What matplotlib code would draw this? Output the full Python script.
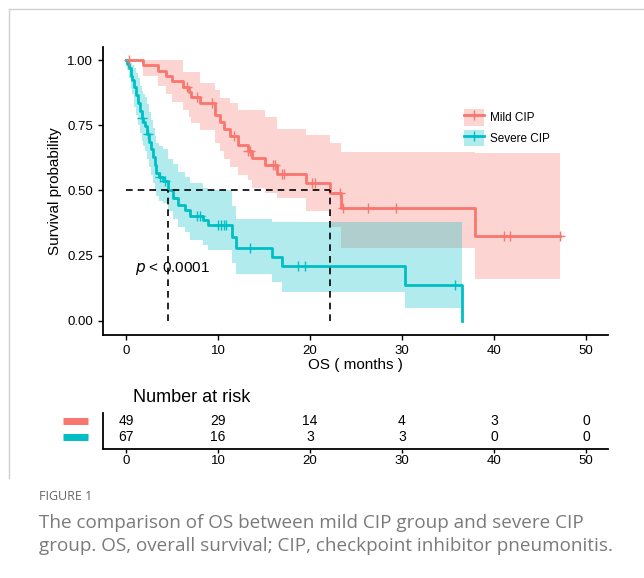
import numpy as np
import matplotlib
matplotlib.use('Agg')
import matplotlib.pyplot as plt
from matplotlib.patches import Patch
from matplotlib.lines import Line2D
from matplotlib.legend_handler import HandlerTuple

plt.rcParams['font.family'] = ['Liberation Sans', 'DejaVu Sans']

# Mild CIP (n=49) - KM steps
mild_t = [0, 1.8, 3.5, 4.4, 5.0, 6.2, 6.8, 7.1, 8.0, 9.7, 10.2, 10.6, 11.3, 12.2, 13.3, 13.7,
          15.1, 16.4, 19.6, 22.2, 23.4, 37.9]
mild_s = [1.0, 0.98, 0.959, 0.939, 0.918, 0.898, 0.877, 0.857, 0.836, 0.79, 0.764, 0.737, 0.71,
          0.674, 0.652, 0.625, 0.597, 0.564, 0.529, 0.488, 0.434, 0.325]
mild_lo = [1.0, 0.94, 0.90, 0.87, 0.84, 0.81, 0.78, 0.76, 0.73, 0.68, 0.65, 0.62, 0.59, 0.56,
           0.54, 0.51, 0.49, 0.47, 0.42, 0.36, 0.28, 0.16]
mild_hi = [1.0, 1.0, 1.0, 1.0, 1.0, 0.955, 0.955, 0.955, 0.91, 0.885, 0.853, 0.853, 0.834, 0.808,
           0.808, 0.808, 0.783, 0.737, 0.713, 0.68, 0.648, 0.645]
mild_end = 47.2
mild_cens = [0.3, 6.6, 7.7, 9.4, 11.7, 13.3, 13.5, 16.0, 16.2, 17.0, 17.2, 20.2, 20.5, 23.3, 23.6,
             26.3, 29.3, 41.1, 41.7, 47.2]

# Severe CIP (n=67)
sev_t = [0, 0.1, 0.3, 0.5, 0.7, 0.9, 1.1, 1.3, 1.5, 1.7, 1.9, 2.1, 2.3, 2.5, 2.7, 2.9, 3.1, 3.3,
         3.6, 4.0, 4.6, 5.1, 5.7, 6.4, 7.0, 8.4, 8.9, 11.5, 12.0, 15.9, 17.0, 30.3, 36.5]
sev_s = [1.0, 0.985, 0.97, 0.94, 0.925, 0.895, 0.866, 0.836, 0.806, 0.776, 0.761, 0.746, 0.716,
         0.687, 0.657, 0.627, 0.597, 0.567, 0.552, 0.537, 0.50, 0.47, 0.445, 0.425, 0.40, 0.387,
         0.368, 0.32, 0.28, 0.245, 0.21, 0.138, 0.0]
sev_lo = [1.0, 0.96, 0.93, 0.89, 0.87, 0.82, 0.79, 0.75, 0.72, 0.69, 0.67, 0.65, 0.62, 0.59, 0.56,
          0.53, 0.50, 0.48, 0.46, 0.45, 0.42, 0.39, 0.36, 0.34, 0.31, 0.29, 0.27, 0.22, 0.18,
          0.15, 0.11, 0.05, 0.05]
sev_hi = [1.0, 1.0, 1.0, 0.99, 0.98, 0.97, 0.95, 0.93, 0.90, 0.88, 0.87, 0.86, 0.83, 0.80, 0.77,
          0.74, 0.71, 0.68, 0.67, 0.66, 0.62, 0.60, 0.57, 0.55, 0.53, 0.51, 0.50, 0.44, 0.39,
          0.38, 0.38, 0.38, 0.38]
sev_cens = [1.7, 2.4, 3.7, 4.2, 7.7, 8.0, 10.0, 10.3, 10.6, 10.9, 13.5, 18.7, 19.5, 35.8]

medians = [4.6, 22.2]
risk_times = [0, 10, 20, 30, 40, 50]
risk_mild = [49, 29, 14, 4, 3, 0]
risk_sev = [67, 16, 3, 3, 0, 0]

red = '#F8766D'
teal = '#00BFC4'


def step_value(t, s, x):
    idx = np.searchsorted(t, x, side='right') - 1
    return np.asarray(s)[idx]


fig = plt.figure(figsize=(6.44, 5.78), dpi=100)

# light panel border
fig.add_artist(Line2D([9/644, 1.0], [1 - 9/578, 1 - 9/578], color='#d0d0d0', lw=1))
fig.add_artist(Line2D([9/644, 9/644], [1 - 9/578, 1 - 478/578], color='#d0d0d0', lw=1))

ax = fig.add_axes([103/644, 1 - 335/578, 505/644, 288/578])

# bands
for t, lo, hi, end, col in [(mild_t, mild_lo, mild_hi, mild_end, red),
                             (sev_t[:-1], sev_lo[:-1], sev_hi[:-1], sev_t[-1], teal)]:
    tt = list(t) + [end]
    ax.fill_between(tt, list(lo) + [lo[-1]], list(hi) + [hi[-1]], step='post',
                    color=col, alpha=0.3, lw=0)

# curves
ax.step(mild_t + [mild_end], mild_s + [mild_s[-1]], where='post', color=red, lw=2)
ax.step(sev_t, sev_s, where='post', color=teal, lw=2)

ax.plot(mild_cens, step_value(mild_t, mild_s, mild_cens), ls='none', marker='+',
        ms=7, mew=1, color=red)
ax.plot(sev_cens, step_value(sev_t, sev_s, sev_cens), ls='none', marker='+',
        ms=7, mew=1, color=teal)

# median lines
ax.plot([0, max(medians)], [0.5, 0.5], ls=(0, (4, 3)), color='black', lw=1.2)
for m in medians:
    ax.plot([m, m], [0, 0.5], ls=(0, (4, 3)), color='black', lw=1.2)

ax.text(1.0, 0.2, r'$\it{p}$' + ' < 0.0001', fontsize=11, va='center', ha='left')

ax.set_xlim(-2.5, 52.4)
ax.set_ylim(-0.055, 1.05)
ax.set_xticks([0, 10, 20, 30, 40, 50])
ax.set_yticks([0, 0.25, 0.5, 0.75, 1.0])
ax.set_yticklabels(['0.00', '0.25', '0.50', '0.75', '1.00'])
ax.spines['top'].set_visible(False)
ax.spines['right'].set_visible(False)
ax.spines['left'].set_linewidth(1.3)
ax.spines['bottom'].set_linewidth(1.3)
ax.tick_params(labelsize=9.5, colors='black', length=3.5, width=1)
ax.set_ylabel('Survival probability', fontsize=11)
ax.set_xlabel('OS ( months )', fontsize=11, labelpad=1)

h_mild = (Patch(color=red, alpha=0.3, lw=0), Line2D([], [], color=red, lw=2, marker='+', ms=7))
h_sev = (Patch(color=teal, alpha=0.3, lw=0), Line2D([], [], color=teal, lw=2, marker='+', ms=7))
ax.legend([h_mild, h_sev], ['Mild CIP', 'Severe CIP'], handler_map={tuple: HandlerTuple(ndivide=1)},
          loc='upper left', bbox_to_anchor=(352/505, 1 - (100 - 47)/288), frameon=False,
          fontsize=8.5, handlelength=1.65, handleheight=1.75, labelspacing=0.35,
          handletextpad=0.55, borderpad=0.3)

# risk table
axr = fig.add_axes([103/644, 1 - 449/578, 505/644, 36/578])
axr.set_xlim(-2.5, 52.4)
axr.set_ylim(-0.75, 1.5)
for x, a, b in zip(risk_times, risk_mild, risk_sev):
    axr.text(x, 1, str(a), ha='center', va='center', fontsize=10)
    axr.text(x, 0, str(b), ha='center', va='center', fontsize=10)
axr.plot([-6.85, -4.1], [1, 1], color=red, lw=5, clip_on=False, solid_capstyle='butt')
axr.plot([-6.85, -4.1], [0, 0], color=teal, lw=5, clip_on=False, solid_capstyle='butt')
axr.set_xticks(risk_times)
axr.set_yticks([])
axr.spines['top'].set_visible(False)
axr.spines['right'].set_visible(False)
axr.spines['left'].set_linewidth(1.3)
axr.spines['bottom'].set_linewidth(1.3)
axr.tick_params(labelsize=9.5, length=3, width=1, pad=1)
fig.text(133/644, 1 - 397/578, 'Number at risk', fontsize=13, va='center', ha='left')

# caption
fig.text(39/644, 1 - 496/578, 'FIGURE 1', fontsize=9, color='#666666', va='center',
         family=['Open Sans', 'DejaVu Sans'])
fig.text(39/644, 1 - 523/578, 'The comparison of OS between mild CIP group and severe CIP',
         fontsize=13.6, color='#7a7a7a', va='center', family=['Open Sans', 'DejaVu Sans'])
fig.text(39/644, 1 - 546/578, 'group. OS, overall survival; CIP, checkpoint inhibitor pneumonitis.',
         fontsize=13.6, color='#7a7a7a', va='center', family=['Open Sans', 'DejaVu Sans'])

fig.savefig('out.png', dpi=100)
